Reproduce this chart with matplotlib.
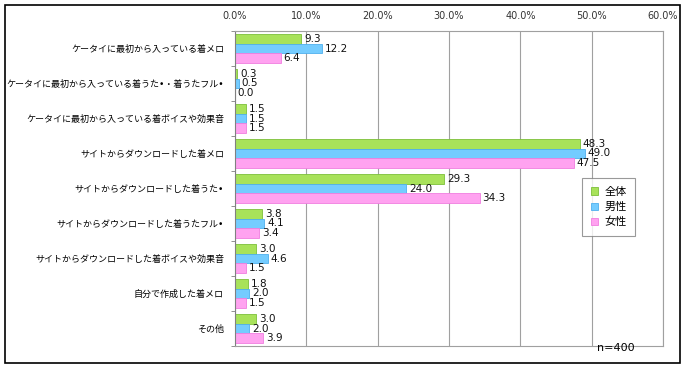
import numpy as np
import matplotlib.pyplot as plt
from matplotlib.patches import Rectangle

plt.rcParams['font.family'] = ['Noto Sans CJK JP', 'DejaVu Sans']

categories = ['ケータイに最初から入っている着メロ',
              'ケータイに最初から入っている着うた•・着うたフル•',
              'ケータイに最初から入っている着ボイスや効果音',
              'サイトからダウンロードした着メロ',
              'サイトからダウンロードした着うた•',
              'サイトからダウンロードした着うたフル•',
              'サイトからダウンロードした着ボイスや効果音',
              '自分で作成した着メロ',
              'その他']
total = [9.3, 0.3, 1.5, 48.3, 29.3, 3.8, 3.0, 1.8, 3.0]
male = [12.2, 0.5, 1.5, 49.0, 24.0, 4.1, 4.6, 2.0, 2.0]
female = [6.4, 0.0, 1.5, 47.5, 34.3, 3.4, 1.5, 1.5, 3.9]
series = ['全体', '男性', '女性']
xticks = [0, 10, 20, 30, 40, 50, 60]

colors = ['#a8e25a', '#74ccff', '#ffa2f0']
edges = ['#7cbf3a', '#4fb0ee', '#f07ee0']

fig = plt.figure(figsize=(6.85, 3.69), dpi=100)
fig.patches.append(Rectangle((0.008, 0.016), 0.984, 0.97, transform=fig.transFigure,
                             fill=False, edgecolor='black', linewidth=1.2))
ax = fig.add_axes([235/685, 1-346/369, (663-235)/685, (346-31)/369])

n = len(categories)
h = 0.28
y = np.arange(n)
for k, vals in enumerate([total, male, female]):
    pos = y - h + k*h
    ax.barh(pos, vals, height=h, color=colors[k], edgecolor=edges[k],
            linewidth=0.6, label=series[k], zorder=2)
    for p, v in zip(pos, vals):
        ax.text(v + 0.4, p, f'{v:.1f}', va='center', ha='left', fontsize=7.5,
                family=['DejaVu Sans'], color='#111111', zorder=3)

ax.set_ylim(n - 0.5, -0.5)
ax.set_xlim(0, 60)
ax.set_yticks(y)
ax.set_yticklabels(categories, fontsize=6.5, family=['DejaVu Sans', 'Noto Sans CJK JP'])
ax.set_yticks(np.arange(n + 1) - 0.5, minor=True)
ax.tick_params(axis='y', which='major', length=0, pad=8)
ax.tick_params(axis='y', which='minor', length=3, color='#808080')
ax.xaxis.tick_top()
ax.set_xticks(xticks)
ax.set_xticklabels([f'{t:.1f}%' for t in xticks], fontsize=7, color='#333333',
                   family=['DejaVu Sans'])
ax.tick_params(axis='x', length=0, pad=7)
ax.grid(axis='x', color='#a0a0a0', linewidth=0.8, zorder=0)
for s in ['top', 'bottom', 'right']:
    ax.spines[s].set_color('#a0a0a0')
ax.spines['left'].set_color('#808080')

leg = ax.legend(loc='upper left', bbox_to_anchor=((582-235)/428, 1-(178-31)/315),
                borderaxespad=0, fontsize=8, frameon=True, fancybox=False,
                edgecolor='#808080', handlelength=0.6, handleheight=0.6,
                handletextpad=0.6, borderpad=0.8, labelspacing=0.45)
leg.get_frame().set_linewidth(0.8)

ax.text(50.8, n - 0.45, 'n=400', fontsize=8, va='center', ha='left',
        family=['DejaVu Sans'], zorder=4)

fig.savefig('out.png', dpi=100)
